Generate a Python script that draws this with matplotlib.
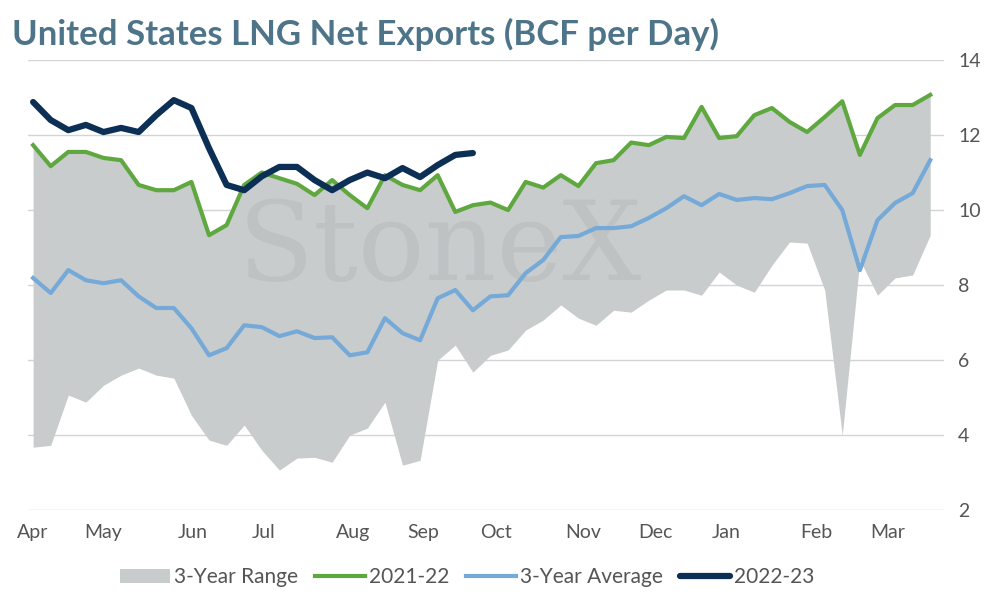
import matplotlib.pyplot as plt
import numpy as np

plt.rcParams['font.family'] = ['Lato', 'DejaVu Sans']

# weekly values, Apr -> Mar
y2122 = [11.73, 11.17, 11.55, 11.55, 11.39, 11.33, 10.67, 10.53, 10.53, 10.75, 9.33, 9.6,
         10.67, 11.0, 10.85, 10.7, 10.4, 10.8, 10.4, 10.05, 10.93, 10.67, 10.53, 10.93, 9.95, 10.13,
         10.2, 10.0, 10.75, 10.6, 10.93, 10.64, 11.25, 11.33, 11.8, 11.73, 11.95, 11.92, 12.75, 11.92,
         11.97, 12.53, 12.72, 12.35, 12.08, 12.48, 12.9, 11.47, 12.45, 12.8, 12.8, 13.07]
avg3 = [8.19, 7.79, 8.4, 8.13, 8.05, 8.13, 7.7, 7.39, 7.39, 6.85, 6.13, 6.32,
        6.93, 6.88, 6.64, 6.77, 6.59, 6.61, 6.13, 6.21, 7.12, 6.72, 6.53, 7.65, 7.87, 7.33,
        7.7, 7.73, 8.32, 8.67, 9.28, 9.31, 9.52, 9.52, 9.57, 9.79, 10.05, 10.37, 10.13, 10.43,
        10.27, 10.32, 10.29, 10.45, 10.64, 10.67, 10.0, 8.4, 9.73, 10.19, 10.45, 11.33]
y2223 = [12.88, 12.4, 12.13, 12.27, 12.08, 12.19, 12.08, 12.53, 12.93, 12.72, 11.65, 10.67,
         10.53, 10.9, 11.15, 11.15, 10.8, 10.53, 10.8, 11.0, 10.85, 11.12, 10.88, 11.2, 11.47, 11.52]
range_low = [3.68, 3.73, 5.07, 4.88, 5.33, 5.6, 5.79, 5.6, 5.52, 4.53, 3.87, 3.73,
             4.27, 3.6, 3.07, 3.39, 3.41, 3.28, 4.0, 4.19, 4.88, 3.2, 3.33, 6.0, 6.4, 5.68,
             6.13, 6.27, 6.8, 7.07, 7.47, 7.12, 6.93, 7.33, 7.28, 7.6, 7.87, 7.87, 7.73, 8.35,
             8.0, 7.81, 8.53, 9.15, 9.12, 7.87, 4.0, 8.67, 7.73, 8.19, 8.27, 9.33]
range_high = y2122
months = ["Apr", "May", "Jun", "Jul", "Aug", "Sep", "Oct", "Nov", "Dec", "Jan", "Feb", "Mar"]
month_pos = [0, 4, 9.1, 13.1, 18.2, 22.2, 26.3, 31.3, 35.4, 39.4, 44.5, 48.6]

x = np.arange(len(y2122))
x2 = np.arange(len(y2223))

fig = plt.figure(figsize=(9.94, 6.06), dpi=100)
ax = fig.add_axes([0.028, 0.158, 0.922, 0.743])

ax.fill_between(x, range_low, range_high, color="#c9cccd", lw=0, label="3-Year Range")
ax.plot(x, y2122, color="#5fa83f", lw=3, label="2021-22")
ax.plot(x, avg3, color="#74a9d8", lw=3, label="3-Year Average")
ax.plot(x2, y2223, color="#0c2f55", lw=4.5, solid_capstyle="round", label="2022-23")

# faint watermark
ax.text(0.45, 0.58, "StoneX", transform=ax.transAxes, fontsize=80, family="serif",
        color="#b0b3b6", alpha=0.4, ha="center", va="center", zorder=1)

ax.set_xlim(-0.3, 51.8)
ax.set_ylim(2, 14)
ax.set_yticks(range(2, 15, 2))
ax.yaxis.tick_right()
ax.set_xticks(month_pos)
ax.set_xticklabels(months)
ax.tick_params(length=0, labelsize=14, colors="#555555", pad=10)
ax.grid(axis="y", color="#d4d4d4", lw=1)
ax.set_axisbelow(True)
for s in ax.spines.values():
    s.set_visible(False)

fig.text(0.012, 0.925, "United States LNG Net Exports (BCF per Day)", fontsize=25,
         fontweight="bold", color="#4d7489")
fig.legend(loc="lower center", ncol=4, frameon=False, fontsize=15, bbox_to_anchor=(0.47, 0.0),
           handlelength=2.4, handletextpad=0.2, columnspacing=0.8, labelcolor="#555555")
fig.savefig("out.png")
